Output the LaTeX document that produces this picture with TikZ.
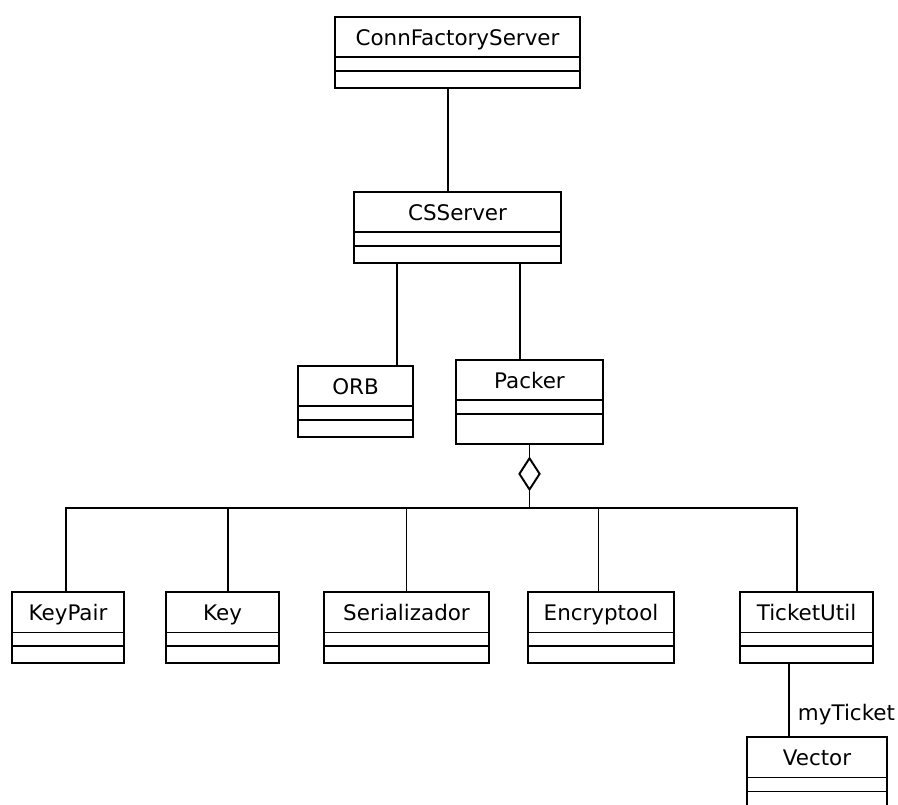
\documentclass[tikz,border=0pt]{standalone}
\usepackage{fontspec}
\setmainfont{DejaVu Sans}
\usetikzlibrary{positioning,shapes.geometric}
\tikzset{
  classbox/.style={draw, anchor=north, inner sep=0pt, font=\fontsize{12.2}{14}\selectfont,
    text height=0.58cm, text depth=0.84cm,
    path picture={
      \draw ([yshift=-0.81cm]path picture bounding box.north west) -- ([yshift=-0.81cm]path picture bounding box.north east);
      \draw ([yshift=-1.09cm]path picture bounding box.north west) -- ([yshift=-1.09cm]path picture bounding box.north east);}},
  aggr/.style={draw, diamond, inner sep=0pt, minimum width=0.42cm, minimum height=0.64cm, anchor=north},
  rolelabel/.style={font=\fontsize{12.2}{14}\selectfont, inner sep=0.16cm},
}
\begin{document}
\begin{tikzpicture}[x=0.02cm, y=-0.02cm, line width=1.1pt]
        \path[use as bounding box, clip] (0,0) rectangle (898,804);
        % classes
        \node[classbox, minimum width=4.9cm] (cfs) at (457.5,16) {ConnFactoryServer};
        \node[classbox, minimum width=4.14cm] (css) at (457.5,191) {CSServer};
        \node[classbox, minimum width=2.3cm] (orb) at (355.5,365) {ORB};
        \node[classbox, minimum width=2.94cm, text depth=1.1cm] (packer) at (529.5,359) {Packer};
        \node[classbox, minimum width=2.24cm] (keypair) at (68,591) {KeyPair};
        \node[classbox, minimum width=2.26cm] (key) at (222.5,591) {Key};
        \node[classbox, minimum width=3.3cm] (serial) at (406.5,591) {Serializador};
        \node[classbox, minimum width=2.92cm] (encr) at (601,591) {Encryptool};
        \node[classbox, minimum width=2.66cm] (ticket) at (806.5,591) {TicketUtil};
        \node[classbox, minimum width=2.8cm] (vector) at (817,736) {Vector};
        % associations
        \draw ([xshift=-0.19cm]cfs.south) -- ([xshift=-0.19cm]css.north);
        \draw ([xshift=0.83cm]orb.north) -- ([xshift=0.83cm]orb.north |- css.south);
        \draw ([xshift=-0.19cm]packer.north) -- ([xshift=-0.19cm]packer.north |- css.south);
        % aggregation
        \node[aggr, below=0.24cm of packer] (agg) {};
        \draw (packer.south) -- (agg.north);
        \coordinate (bus) at ([yshift=-0.34cm]agg.south);
        \draw (agg.south) -- (bus);
        \draw (bus) -| ([xshift=-0.04cm]keypair.north);
        \draw (bus) -| ([xshift=0.11cm]key.north);
        \draw (bus) -| (serial.north);
        \draw (bus) -| ([xshift=-0.05cm]encr.north);
        \draw (bus) -| ([xshift=-0.19cm]ticket.north);
        \draw ([xshift=-0.35cm]ticket.south) -- node[rolelabel, pos=0.7, right]{myTicket} ([xshift=-0.35cm]ticket.south |- vector.north);
\end{tikzpicture}
\end{document}
